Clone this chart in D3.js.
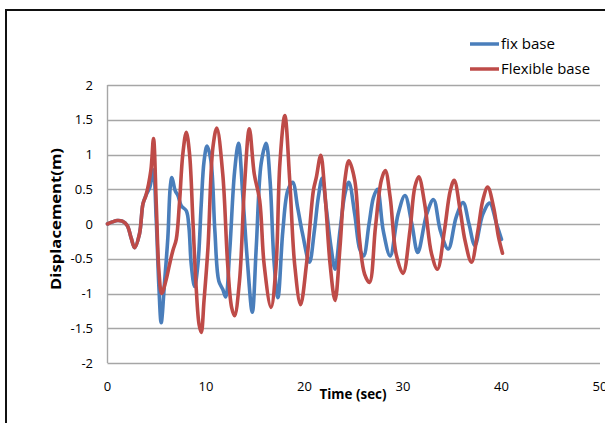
<!DOCTYPE html>
<html>
<head>
<meta charset="utf-8">
<script src="https://cdn.jsdelivr.net/npm/d3@7"></script>
<style>
  body { margin: 0; background: #fff; }
  svg { display: block; }
  text { font-family: "Open Sans", "Noto Sans", sans-serif; fill: #000; }
</style>
</head>
<body>
<div id="chart"></div>
<script>
// values
var fixTime = [0,0.5,1,1.5,2,2.4,2.75,3.25,3.6,3.9,4.3,4.65,4.95,5.22,5.45,5.8,6.13,6.37,6.54,6.87,7.15,7.5,8.0,8.27,8.5,8.84,9.18,9.52,9.8,10.1,10.5,10.9,11.3,11.7,12.0,12.4,12.9,13.3,13.75,14.2,14.7,15.1,15.6,16.1,16.5,16.9,17.3,17.8,18.3,18.8,19.3,19.8,20.5,21.0,21.4,21.8,22.2,22.7,23.1,23.6,24.1,24.5,25.1,25.6,26.0,26.55,27.0,27.4,28.0,28.7,29.5,30.2,30.9,31.5,32.4,33.1,33.8,34.6,35.4,36.1,36.7,37.3,38.1,38.8,39.5,40.0];
var fixDisp = [0,0.03,0.05,0.04,-0.02,-0.2,-0.34,-0.14,0.29,0.41,0.53,0.78,0.05,-0.91,-1.42,-0.82,-0.19,0.53,0.67,0.48,0.41,0.26,0.19,-0.05,-0.58,-0.9,-0.58,0.29,0.9,1.12,0.91,-0.1,-0.82,-0.94,-1.05,-0.4,0.75,1.16,0.38,-0.53,-1.27,-0.34,0.87,1.16,0.63,-0.53,-1.06,-0.1,0.48,0.6,0.24,-0.14,-0.55,-0.1,0.38,0.66,0.24,-0.34,-0.65,-0.1,0.43,0.6,0.14,-0.36,-0.46,0,0.38,0.5,-0.1,-0.46,0.14,0.41,0,-0.41,0.14,0.35,-0.1,-0.36,0.1,0.31,0.0,-0.31,0.14,0.3,0,-0.22];

var flexTime = [0,0.5,1,1.5,2,2.4,2.75,3.25,3.6,3.9,4.4,4.67,4.95,5.22,5.5,5.96,6.3,6.64,6.98,7.3,7.65,8.0,8.33,8.67,9.0,9.3,9.52,9.8,10.2,10.7,11.1,11.7,12.2,12.6,12.9,13.4,13.9,14.4,14.9,15.45,15.9,16.6,17.1,17.5,18.0,18.5,19.0,19.6,20.2,20.9,21.2,21.65,22.05,22.6,23.1,23.6,24.1,24.5,25.1,25.6,26.1,26.6,27.2,27.8,28.2,28.7,29.3,30.0,30.7,31.2,31.6,32.2,32.9,33.5,34.2,34.8,35.2,35.8,36.3,36.95,37.6,38.1,38.6,39.2,39.7,40.1];
var flexDisp = [0,0.03,0.05,0.04,-0.02,-0.2,-0.34,-0.14,0.29,0.41,0.77,1.23,0.29,-0.67,-1.0,-0.8,-0.58,-0.38,-0.22,0.29,1.01,1.32,1.01,0.05,-0.91,-1.45,-1.56,-1.1,-0.34,1.1,1.38,0.72,-0.58,-1.2,-1.32,-0.82,0.53,1.37,0.72,0.34,-0.58,-1.2,-0.63,0.87,1.56,0.63,-0.58,-1.16,-0.58,0.48,0.67,0.99,0.48,-0.58,-1.1,-0.34,0.63,0.91,0.63,-0.24,-0.72,-0.84,-0.05,0.63,0.77,0.38,-0.43,-0.71,-0.1,0.53,0.68,0.29,-0.43,-0.65,-0.1,0.48,0.63,0.2,-0.24,-0.55,-0.1,0.34,0.53,0.24,-0.19,-0.42];

var xTicks = [0,10,20,30,40,50];
var yTicks = [-2,-1.5,-1,-0.5,0,0.5,1,1.5,2];
var seriesNames = ["fix base", "Flexible base"];
var seriesColors = ["#4a7ebb", "#be4b48"];

var width = 605,
  height = 423;

var svg = d3.select("#chart")
  .append("svg")
  .attr("width", width)
  .attr("height", height)

// frame round the chart (only left and top edges are in view)
svg.append("rect")
  .attr("x", 6)
  .attr("y", 10)
  .attr("width", 640)
  .attr("height", 460)
  .attr("fill", "none")
  .attr("stroke", "#111")
  .attr("stroke-width", 2)

var x = d3.scaleLinear().domain([0, 50]).range([107.5, 600])
var y = d3.scaleLinear().domain([-2, 2]).range([363, 85])

// horizontal grid lines
svg.selectAll(".grid")
  .data(yTicks)
  .enter().append("line")
  .attr("class", "grid")
  .attr("x1", x(0))
  .attr("x2", x(50))
  .attr("y1", function(d) { return Math.round(y(d)) + 0.5 })
  .attr("y2", function(d) { return Math.round(y(d)) + 0.5 })
  .attr("stroke", "#a6a6a6")
  .attr("stroke-width", 1.4)

// y axis line
svg.append("line")
  .attr("x1", x(0))
  .attr("x2", x(0))
  .attr("y1", y(2))
  .attr("y2", y(-2))
  .attr("stroke", "#a6a6a6")
  .attr("stroke-width", 1.4)

// tick labels
svg.selectAll(".ylabel")
  .data(yTicks)
  .enter().append("text")
  .attr("class", "ylabel")
  .attr("x", 93)
  .attr("y", function(d) { return y(d) + 4.5 })
  .attr("text-anchor", "end")
  .attr("font-size", 13)
  .text(function(d) { return d })

svg.selectAll(".xlabel")
  .data(xTicks)
  .enter().append("text")
  .attr("class", "xlabel")
  .attr("x", function(d) { return x(d) })
  .attr("y", 391)
  .attr("text-anchor", "middle")
  .attr("font-size", 13)
  .text(function(d) { return d })

// axis titles
svg.append("text")
  .attr("transform", "translate(61,219) rotate(-90)")
  .attr("text-anchor", "middle")
  .attr("font-size", 14)
  .attr("font-weight", "bold")
  .attr("textLength", 142)
  .attr("lengthAdjust", "spacingAndGlyphs")
  .text("Displacement(m)")

svg.append("text")
  .attr("x", 353)
  .attr("y", 399)
  .attr("text-anchor", "middle")
  .attr("font-size", 14)
  .attr("font-weight", "bold")
  .attr("textLength", 67)
  .attr("lengthAdjust", "spacingAndGlyphs")
  .text("Time (sec)")

// the two series
var line = d3.line()
  .x(function(d) { return x(d[0]) })
  .y(function(d) { return y(d[1]) })
  .curve(d3.curveCatmullRom.alpha(0.5))

var series = [
  d3.zip(fixTime, fixDisp),
  d3.zip(flexTime, flexDisp)
]

svg.selectAll(".series")
  .data(series)
  .enter().append("path")
  .attr("class", "series")
  .attr("d", line)
  .attr("fill", "none")
  .attr("stroke", function(d, i) { return seriesColors[i] })
  .attr("stroke-width", 3.6)
  .attr("stroke-linejoin", "round")
  .attr("stroke-linecap", "round")

// legend
var legend = svg.selectAll(".legend")
  .data(seriesNames)
  .enter().append("g")
  .attr("class", "legend")
  .attr("transform", function(d, i) { return "translate(470," + (44 + i * 25) + ")" })

legend.append("line")
  .attr("x1", 0)
  .attr("x2", 29)
  .attr("stroke", function(d, i) { return seriesColors[i] })
  .attr("stroke-width", 3.5)

legend.append("text")
  .attr("x", 31)
  .attr("y", 5)
  .attr("font-size", 14)
  .attr("textLength", function(d, i) { return i == 0 ? 54 : 89 })
  .attr("lengthAdjust", "spacingAndGlyphs")
  .text(function(d) { return d })
</script>
</body>
</html>
